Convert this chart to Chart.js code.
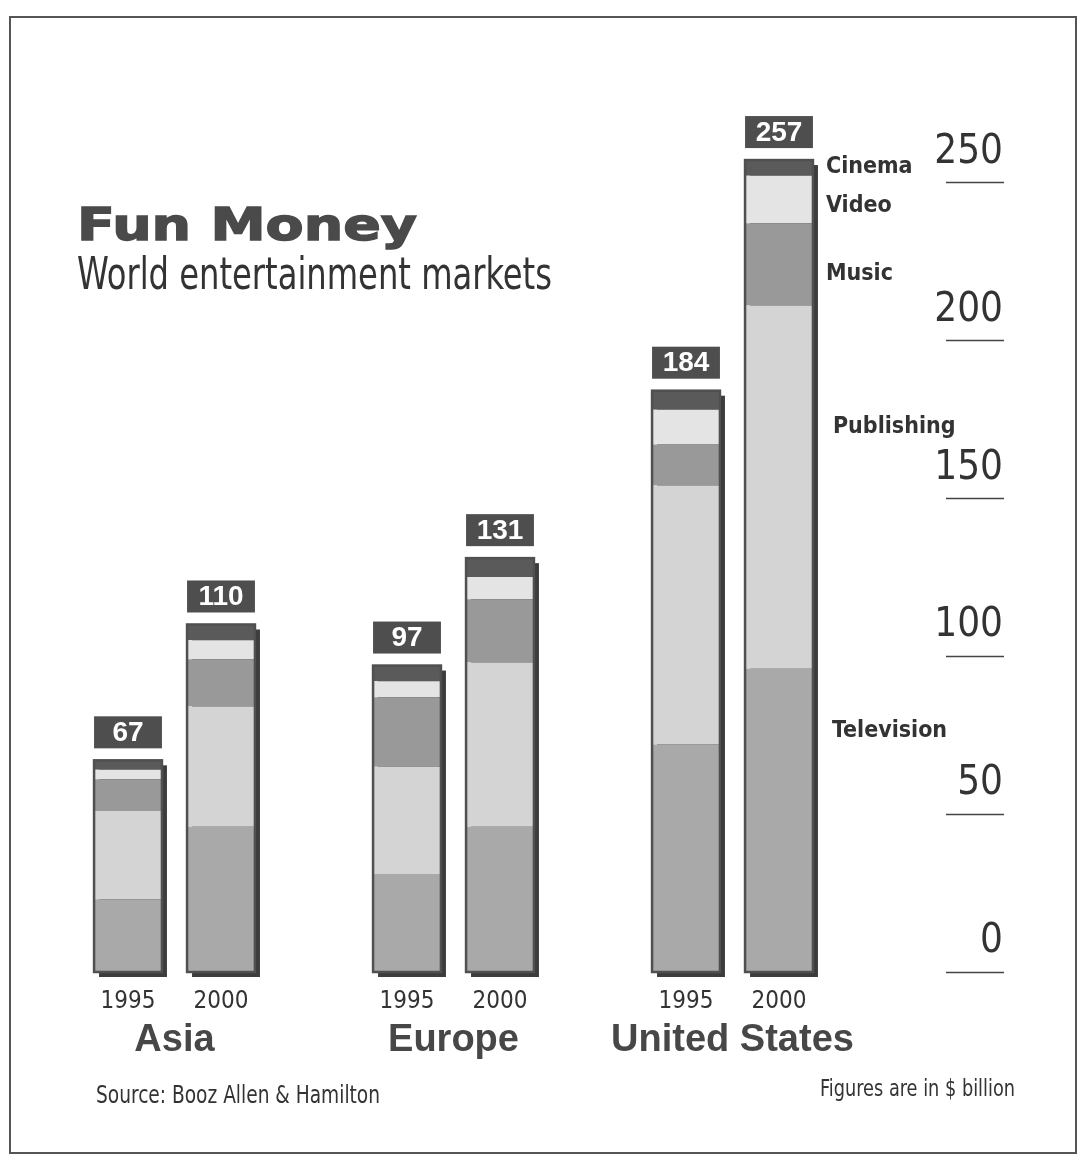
<!DOCTYPE html>
<html>
<head>
<meta charset="utf-8">
<script src="https://cdn.jsdelivr.net/npm/chart.js@4.4.0/dist/chart.umd.min.js"></script>
<style>
  html, body { margin: 0; padding: 0; background: #fff; }
  #wrap { position: relative; width: 1080px; height: 1156px; overflow: hidden; background: #fff; }
  #frame { position: absolute; left: 9px; top: 16px; width: 1068px; height: 1138px;
           border: 2px solid #555; box-sizing: border-box; }
  #chart { position: absolute; left: 0; top: 0; }
  .txt { position: absolute; white-space: nowrap; transform-origin: 0 0; line-height: 1; }
  .narrow { font-family: "DejaVu Sans Condensed", "DejaVu Sans"; font-stretch: condensed; }
  #title { left: 77px; top: 203px; font-family: "DejaVu Sans"; font-weight: bold; font-size: 44px;
           color: #4a4a4a; -webkit-text-stroke: 1.4px #4a4a4a; }
  #subtitle { left: 77px; top: 252px; font-size: 44px; color: #333; }
  #source { left: 96px; top: 1083px; font-size: 24px; color: #333; }
  #note { left: 820px; top: 1077px; font-size: 23px; color: #333; }
</style>
</head>
<body>
<div id="wrap">
  <div id="frame"></div>
  <canvas id="chart" width="1080" height="1156"></canvas>
  <div class="txt" id="title" data-w="340">Fun Money</div>
  <div class="txt narrow" id="subtitle" data-w="475">World entertainment markets</div>
  <div class="txt narrow" id="source" data-w="284">Source: Booz Allen &amp; Hamilton</div>
  <div class="txt narrow" id="note" data-w="195">Figures are in $ billion</div>
</div>
<script>
/* --- data, $ billion --- */
const years = ['1995', '2000', '', '1995', '2000', '', '1995', '2000'];
const regions = ['Asia', 'Europe', 'United States'];
const segmentNames = ['Television', 'Publishing', 'Music', 'Video', 'Cinema'];

const television = [23, 46, null, 31, 46, null, 72, 96];
const publishing = [28, 38, null, 34, 52, null, 82, 115];
const music      = [10, 15, null, 22, 20, null, 13, 26];
const video      = [3, 6, null, 5, 7, null, 11, 15];
const cinema     = [3, 5, null, 5, 6, null, 6, 5];

const yTicks = [0, 50, 100, 150, 200, 250];

const segmentColors = ['#a9a9a9', '#d4d4d4', '#999999', '#e4e4e4', '#5a5a5a'];
const NARROW = '"DejaVu Sans Condensed", "DejaVu Sans", sans-serif';

// stretch or squeeze the page texts to the widths of the original lettering
document.querySelectorAll('.txt[data-w]').forEach(el => {
    const w = el.getBoundingClientRect().width;
    el.style.transform = 'scaleX(' + (Number(el.dataset.w) / w) + ')';
});

function stackTotal(i) {
    return [television, publishing, music, video, cinema]
        .reduce((s, arr) => s + (arr[i] || 0), 0);
}

/** bar shadows, outlines, total boxes, segment names, group names, tick rules **/
const decorPlugin = {
    id: 'decor',
    beforeDatasetsDraw(chart) {
        const ctx = chart.ctx;
        const y = chart.scales.y;
        const meta = chart.getDatasetMeta(0);
        ctx.save();
        ctx.fillStyle = '#3c3c3c';
        meta.data.forEach((bar, i) => {
            if (television[i] == null) return;
            const top = y.getPixelForValue(stackTotal(i));
            const w = bar.width;
            ctx.fillRect(bar.x - w / 2 + 5, top + 5, w, bar.base - top);
        });
        ctx.restore();
    },
    afterDatasetsDraw(chart) {
        const ctx = chart.ctx;
        const x = chart.scales.x;
        const y = chart.scales.y;
        const meta = chart.getDatasetMeta(0);
        ctx.save();

        meta.data.forEach((bar, i) => {
            if (television[i] == null) return;
            const total = stackTotal(i);
            const top = y.getPixelForValue(total);
            const w = bar.width;
            // outline
            ctx.strokeStyle = '#505050';
            ctx.lineWidth = 2.5;
            ctx.strokeRect(bar.x - w / 2, top, w, bar.base - top);
            // total box
            const bh = 32, gap = 12;
            ctx.fillStyle = '#4e4e4e';
            ctx.fillRect(bar.x - w / 2, top - gap - bh, w, bh);
            ctx.fillStyle = '#fff';
            ctx.font = 'bold 28px "Liberation Sans"';
            ctx.textAlign = 'center';
            ctx.textBaseline = 'middle';
            ctx.fillText(String(total), bar.x, top - gap - bh / 2 + 1);
        });

        // segment names beside the last bar
        const last = years.length - 1;
        const lastBar = meta.data[last];
        const total = stackTotal(last);
        const at = [0.297, 0.671, 0.86, 0.944, 0.992];
        const indent = [6, 7, 0, 0, 0];
        ctx.fillStyle = '#333';
        ctx.font = 'bold 23px ' + NARROW;
        ctx.textAlign = 'left';
        ctx.textBaseline = 'middle';
        segmentNames.forEach((name, k) => {
            const py = y.getPixelForValue(total * at[k]);
            ctx.fillText(name, lastBar.x + lastBar.width / 2 + 13 + indent[k], py);
        });

        // region names under each pair of bars
        ctx.fillStyle = '#474747';
        ctx.font = 'bold 38px "Liberation Sans"';
        ctx.textAlign = 'center';
        ctx.textBaseline = 'alphabetic';
        regions.forEach((name, r) => {
            const cx = (x.getPixelForValue(r * 3) + x.getPixelForValue(r * 3 + 1)) / 2;
            ctx.fillText(name, cx, 1051);
        });

        // short rules under the value labels
        ctx.strokeStyle = '#444';
        ctx.lineWidth = 1.5;
        y.ticks.forEach(t => {
            const py = Math.round(y.getPixelForValue(t.value)) + 0.5;
            ctx.beginPath();
            ctx.moveTo(946, py);
            ctx.lineTo(1004, py);
            ctx.stroke();
        });
        ctx.restore();
    }
};

const seriesList = [television, publishing, music, video, cinema];

new Chart(document.getElementById('chart'), {
    type: 'bar',
    data: {
        labels: years,
        datasets: seriesList.map((values, k) => ({
            label: segmentNames[k],
            data: values,
            backgroundColor: segmentColors[k],
            borderWidth: 0,
            barPercentage: 0.73,
            categoryPercentage: 1
        }))
    },
    options: {
        responsive: false,
        animation: false,
        layout: { padding: { left: 81.5, top: 119, right: 77, bottom: 0 } },
        plugins: {
            legend: { display: false },
            tooltip: { enabled: false }
        },
        scales: {
            x: {
                stacked: true,
                grid: { display: false, drawTicks: false },
                border: { display: false },
                ticks: {
                    color: '#333',
                    font: { family: NARROW, size: 24 },
                    padding: 15,
                    maxRotation: 0,
                    autoSkip: false
                },
                afterFit: s => { s.height = 184; }
            },
            y: {
                stacked: true,
                position: 'right',
                min: 0,
                max: 270,
                grid: { display: false, drawTicks: false },
                border: { display: false },
                afterBuildTicks: s => { s.ticks = yTicks.map(v => ({ value: v })); },
                ticks: {
                    color: '#333',
                    font: { family: NARROW, size: 40 },
                    crossAlign: 'far',
                    padding: 20,
                    labelOffset: -30
                },
                afterFit: s => { s.width = 177.5; }
            }
        }
    },
    plugins: [decorPlugin]
});
</script>
</body>
</html>
